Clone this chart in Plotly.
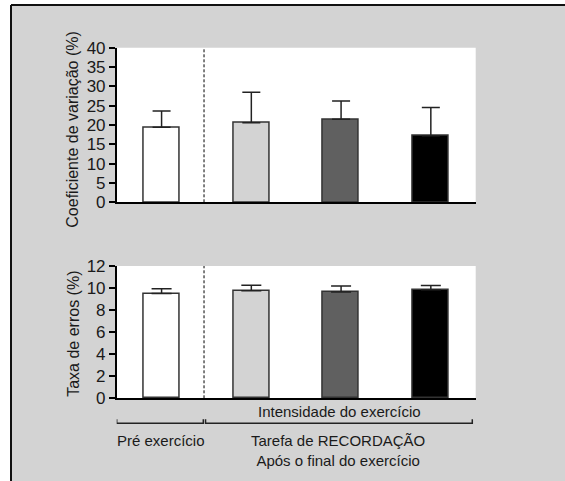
import plotly.graph_objects as go

# ---- data ----
categories = ["Pré exercício", "Intensidade A", "Intensidade B", "Intensidade C"]
cv_values = [19.4, 20.6, 21.5, 17.2]
cv_errors = [4.2, 7.9, 4.7, 7.3]
err_values = [9.5, 9.76, 9.64, 9.85]
err_errors = [0.44, 0.5, 0.55, 0.37]
bar_colors = ["#ffffff", "#d3d3d3", "#606060", "#000000"]
cv_ticks = [0, 5, 10, 15, 20, 25, 30, 35, 40]
err_ticks = [0, 2, 4, 6, 8, 10, 12]
cv_title = "Coeficiente de variação (%)"
err_title = "Taxa de erros (%)"
group_top = "Intensidade do exercício"
group_left = "Pré exercício"
group_right = "Tarefa de RECORDAÇÃO<br>Após o final do exercício"

W, H = 565, 481
FONT = "Liberation Sans, Arial, sans-serif"
TXT = "#1a1a1a"

def px_x(p):
    return p / W

def px_y(p):
    return 1 - p / H

fig = go.Figure()

fig.add_trace(go.Bar(
    x=categories, y=cv_values, width=0.4,
    marker=dict(color=bar_colors, line=dict(color="#333333", width=1.5)),
    error_y=dict(type="data", symmetric=False, array=cv_errors,
                 arrayminus=[0] * len(cv_errors), color="#222222",
                 thickness=1.5, width=9),
    xaxis="x", yaxis="y",
))
fig.add_trace(go.Bar(
    x=categories, y=err_values, width=0.4,
    marker=dict(color=bar_colors, line=dict(color="#333333", width=1.5)),
    error_y=dict(type="data", symmetric=False, array=err_errors,
                 arrayminus=[0] * len(err_errors), color="#222222",
                 thickness=1.5, width=10),
    xaxis="x2", yaxis="y2",
))

x_dom = [px_x(116.7), px_x(475.7)]
top_dom = [px_y(202.3), px_y(47.7)]
bot_dom = [px_y(398.3), px_y(266)]

xax = dict(range=[-0.5, 3.5], showticklabels=False, ticks="", showgrid=False,
           zeroline=False, showline=True, linecolor="#000000", linewidth=1.5,
           domain=x_dom, fixedrange=True, automargin=False)
yax_common = dict(showgrid=False, zeroline=False, showline=True, linecolor="#000000",
                  linewidth=1.5, ticks="outside", ticklen=6, tickwidth=1.5,
                  tickcolor="#000000", automargin=False,
                  tickfont=dict(family=FONT, size=17, color=TXT), fixedrange=True)

fig.update_layout(
    width=W, height=H,
    margin=dict(l=0, r=0, t=0, b=0, pad=0, autoexpand=False),
    paper_bgcolor="#ffffff",
    plot_bgcolor="#ffffff",
    showlegend=False,
    bargap=0,
    xaxis=dict(**xax, anchor="y"),
    xaxis2=dict(**xax, anchor="y2"),
    yaxis=dict(**yax_common, domain=top_dom, range=[0, 40], tickvals=cv_ticks, anchor="x"),
    yaxis2=dict(**yax_common, domain=bot_dom, range=[0, 12], tickvals=err_ticks, anchor="x2"),
)

shapes = []
fx, fy = px_x(11), px_y(5)
# grey panel
shapes.append(dict(type="rect", xref="paper", yref="paper", layer="below",
                   x0=fx, x1=1, y0=0, y1=fy,
                   fillcolor="#d3d3d3", line=dict(width=0)))
# black frame (top and left edges)
shapes.append(dict(type="line", xref="paper", yref="paper", layer="below",
                   x0=fx, x1=1, y0=fy, y1=fy, line=dict(color="#111111", width=2)))
shapes.append(dict(type="line", xref="paper", yref="paper", layer="below",
                   x0=fx, x1=fx, y0=0, y1=fy, line=dict(color="#111111", width=2)))
# white plot areas
for dom in (top_dom, bot_dom):
    shapes.append(dict(type="rect", xref="paper", yref="paper", layer="below",
                       x0=x_dom[0], x1=x_dom[1], y0=dom[0], y1=dom[1],
                       fillcolor="#ffffff", line=dict(width=0)))
# dashed separators
for xr, yr in (("x", "y domain"), ("x2", "y2 domain")):
    shapes.append(dict(type="line", xref=xr, yref=yr, x0=0.473, x1=0.473, y0=0, y1=1,
                       line=dict(color="#000000", width=1, dash="3px,2px")))
# group brackets
by = px_y(423.3)
bt = px_y(419.3)
for a, b in ((-0.5, 0.465), (0.49, 3.462)):
    shapes.append(dict(type="path", xref="x2", yref="paper",
                       path=f"M {a},{bt} L {a},{by} L {b},{by} L {b},{bt}",
                       line=dict(color="#222222", width=1.5)))
fig.update_layout(shapes=shapes)

ann = [
    dict(text=cv_title, x=px_x(72.7), y=px_y(129), textangle=-90,
         font=dict(family=FONT, size=16, color=TXT)),
    dict(text=err_title, x=px_x(72.8), y=px_y(334), textangle=-90,
         font=dict(family=FONT, size=16, color=TXT)),
    dict(text=group_top, x=px_x(339), y=px_y(411.7),
         font=dict(family=FONT, size=15, color=TXT)),
    dict(text=group_left, x=px_x(160.8), y=px_y(440.7),
         font=dict(family=FONT, size=15, color=TXT)),
    dict(text=group_right, x=px_x(338), y=px_y(450.3),
         font=dict(family=FONT, size=15, color=TXT)),
]
for a in ann:
    a.update(xref="paper", yref="paper", xanchor="center", yanchor="middle",
             showarrow=False)
fig.update_layout(annotations=ann)

js = """
document.body.style.margin='0';document.body.style.padding='0';
document.documentElement.style.overflow='hidden';document.body.style.overflow='hidden';
window.scrollTo(0,0);
"""
fig.write_html("out.html", config={"displayModeBar": False}, post_script=js)
